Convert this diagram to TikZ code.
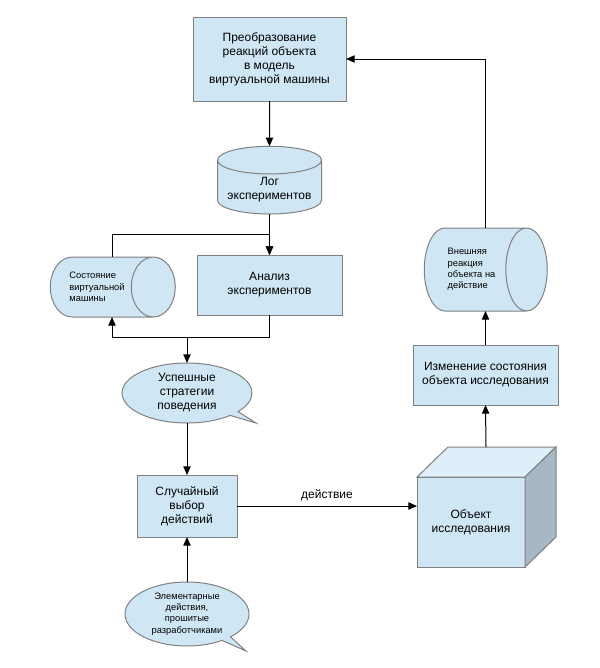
\documentclass[tikz,border=0pt]{standalone}
\usepackage{fontspec}
\setmainfont{Liberation Sans}
\usepackage{tikz}
\usetikzlibrary{arrows.meta, positioning, shapes.geometric, shapes.callouts, calc}

\definecolor{boxfill}{RGB}{207,231,245}
\definecolor{boxline}{RGB}{128,128,128}
\definecolor{cubeside}{RGB}{166,184,198}
\definecolor{cubetop}{RGB}{222,239,249}

\begin{document}
\begin{tikzpicture}[x=0.75pt, y=-0.75pt,
  every node/.style={font=\fontsize{9}{10.5}\selectfont},
  >={Triangle[length=6.5pt,width=5.5pt]},
  conn/.style={line width=0.75pt},
  blockbox/.style={draw=boxline, fill=boxfill, line width=0.75pt, rectangle, align=center, inner sep=2pt, outer sep=0pt},
  storebox/.style={draw=boxline, line width=0.75pt, cylinder, cylinder uses custom fill, cylinder body fill=boxfill, cylinder end fill=boxfill, inner sep=2pt, outer sep=0pt},
  notebox/.style={draw=boxline, fill=boxfill, line width=0.75pt, ellipse callout, callout pointer arc=10, align=center, inner sep=1pt, outer sep=0pt},
  smalltext/.style={font=\fontsize{7}{8.5}\selectfont}]
  \useasboundingbox (0,0) rectangle (600,668);

  % Left column
  \node[blockbox, minimum width=114.75pt, minimum height=63pt] (remap) at (269.5,59) {Преобразование\\реакций объекта\\в модель\\виртуальной машины};
  \node[storebox, shape border rotate=90, aspect=0.31, minimum width=78pt, minimum height=50pt, align=center] (log) at (269.5,189.5) {Лог\\экспериментов};
  \node[blockbox, minimum width=108.75pt, minimum height=45pt] (analysis) at (269.5,285) {Анализ\\экспериментов};
  \node[storebox, aspect=1.27, minimum width=45pt, minimum height=93.75pt, align=left, smalltext] (state) at (97,287) {Состояние\\виртуальной\\машины};
  \node[notebox, minimum width=97.5pt, minimum height=45pt, callout absolute pointer={(256,423)}] (good) at (187,393) {Успешные\\стратегии\\поведения};
  \node[blockbox, minimum width=75pt, minimum height=46.5pt] (choice) at (187,506) {Случайный\\выбор\\действий};
  \node[notebox, minimum width=93pt, minimum height=48pt, smalltext, callout absolute pointer={(246,651)}] (basic) at (187,614) {Элементарные\\действия,\\прошитые\\разработчиками};

  % Right column
  \node[blockbox, minimum width=81pt, minimum height=67.5pt] (obj) at (471,522) {Объект\\исследования};
  \filldraw[draw=boxline, fill=cubetop, line width=0.75pt] (obj.north west) -- ++(31,-30) -- ++(108,0) -- (obj.north east) -- cycle;
  \filldraw[draw=boxline, fill=cubeside, line width=0.75pt] (obj.north east) -- ++(31,-30) -- ++(0,90) -- (obj.south east) -- cycle;
  \node[blockbox, minimum width=108.75pt, minimum height=45pt] (change) at (485.5,375) {Изменение состояния\\объекта исследования};
  \node[storebox, aspect=0.87, minimum width=62.25pt, minimum height=92.25pt, align=left, smalltext] (reply) at (471.5,269.5) {Внешняя\\реакция\\объекта на\\действие};

  % Connectors
  \coordinate (upper) at (269.5,234);
  \coordinate (lower) at (269.5,337);
  \coordinate (stateup) at ($(state.north)+(15,0)$);
  \coordinate (statedown) at ($(state.south)+(15,0)$);
  \coordinate (objtop) at ($(obj.north)+(15,-30)$);
  \draw[->, conn] (remap) -- (log);
  \draw[->, conn] (log) -- (analysis);
  \draw[->, conn] (stateup) |- (upper) -- (analysis.north);
  \draw[->, conn] (analysis.south) -- (lower) -| (statedown);
  \draw[->, conn] (good.north |- lower) -- (good.north);
  \draw[->, conn] (good.south) -- (choice.north);
  \draw[->, conn] (basic.north) -- (choice.south);
  \draw[->, conn] (choice.east) -- node[above] {действие} (choice.east -| obj.west);
  \draw[->, conn] (objtop) -- (change.south);
  \draw[->, conn] (change.north) -- (change.north |- reply.south);
  \draw[->, conn] (change.north |- reply.north) |- (remap.east);
\end{tikzpicture}
\end{document}
